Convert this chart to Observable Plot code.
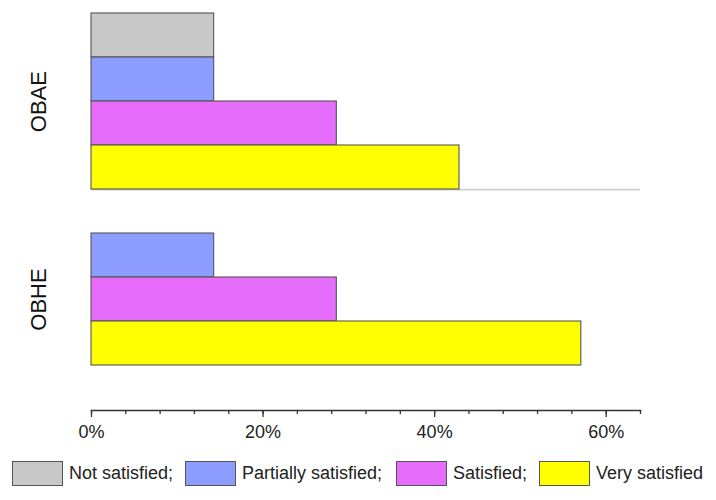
<!DOCTYPE html>
<html>
<head>
<meta charset="utf-8">
<script src="https://cdn.jsdelivr.net/npm/d3@7"></script>
<script src="https://cdn.jsdelivr.net/npm/@observablehq/plot@0.6"></script>
<style>
  body { margin: 0; background: #fff; font-family: "Liberation Sans", Arial, sans-serif; }
  #wrap { position: relative; width: 716px; }
  #legend { position: relative; width: 716px; height: 50px; }
  .item { position: absolute; top: 11px; display: flex; align-items: center; font-size: 18px; color: #222; white-space: nowrap; }
  .sw { width: 49px; height: 23px; border: 1.3px solid #555; margin-right: 6px; }
</style>
</head>
<body>
<div id="wrap"></div>
<script>
const groups = ["OBAE", "OBHE"];
const categories = ["Not satisfied", "Partially satisfied", "Satisfied", "Very satisfied"];
const colors = ["#c8c8c8", "#8c9cff", "#e66cfc", "#ffff00"];
const obaeValues = [14.3, 14.3, 28.6, 42.9];
const obheValues = [0, 14.3, 28.6, 57.1];
const majorTicks = [0, 20, 40, 60];
const tickLabels = ["0%", "20%", "40%", "60%"];
const minorTicks = [0, 4, 8, 12, 16, 20, 24, 28, 32, 36, 40, 44, 48, 52, 56, 60, 64];
const legendLabels = ["Not satisfied;", "Partially satisfied;", "Satisfied;", "Very satisfied"];
const legendLefts = [12, 185, 396, 539];

const key = (g, c) => g + "|" + c;
const data = [];
[obaeValues, obheValues].forEach((vals, gi) => {
  vals.forEach((v, ci) => {
    if (v > 0) data.push({group: groups[gi], category: categories[ci], key: key(groups[gi], categories[ci]), value: v});
  });
});
const yDomain = [];
groups.forEach(g => categories.forEach(c => yDomain.push(key(g, c))));
yDomain.push("spacer");

const marginTop = 12, height = 450, marginBottom = 40;
const bw = (height - marginBottom - marginTop) / yDomain.length;

const chart = Plot.plot({
  width: 716,
  height,
  marginTop,
  marginBottom,
  marginLeft: 91,
  marginRight: 76,
  style: {fontFamily: "'Liberation Sans', Arial, sans-serif", background: "#fff"},
  x: {domain: [0, 64], axis: null, label: null},
  y: {domain: yDomain, padding: 0, axis: null, label: null},
  color: {domain: categories, range: colors},
  marks: [
    Plot.ruleY([key("OBAE", "Very satisfied")], {stroke: "#cfcfcf", strokeWidth: 1.6, dy: bw / 2}),
    Plot.barX(data, {x: "value", y: "key", fill: "category", stroke: "#555", strokeWidth: 1.1}),
    Plot.frame({anchor: "bottom", stroke: "#333", strokeWidth: 1.5}),
    Plot.axisX(minorTicks, {tickSize: 4, stroke: "#333", strokeWidth: 1.3, tickFormat: () => "", label: null}),
    Plot.axisX(majorTicks, {tickSize: 7, tickPadding: 8, stroke: "#333", strokeWidth: 1.3, fontSize: 18, fill: "#222", label: null,
      tickFormat: (d) => tickLabels[majorTicks.indexOf(d)]}),
    Plot.text([groups[0]], {y: () => key("OBAE", "Partially satisfied"), text: d => d, frameAnchor: "left", dx: -53, dy: bw / 2,
      rotate: -90, fontSize: 22, fill: "#111", textAnchor: "middle", lineAnchor: "middle"}),
    Plot.text([groups[1]], {y: () => key("OBHE", "Satisfied"), text: d => d, frameAnchor: "left", dx: -53,
      rotate: -90, fontSize: 22, fill: "#111", textAnchor: "middle", lineAnchor: "middle"})
  ]
});
document.getElementById("wrap").appendChild(chart);

const legend = document.createElement("div");
legend.id = "legend";
legendLabels.forEach((lab, i) => {
  const it = document.createElement("div");
  it.className = "item";
  it.style.left = legendLefts[i] + "px";
  const sw = document.createElement("div");
  sw.className = "sw";
  sw.style.background = colors[i];
  const t = document.createElement("span");
  t.textContent = lab;
  it.appendChild(sw);
  it.appendChild(t);
  legend.appendChild(it);
});
document.getElementById("wrap").appendChild(legend);
</script>
</body>
</html>
